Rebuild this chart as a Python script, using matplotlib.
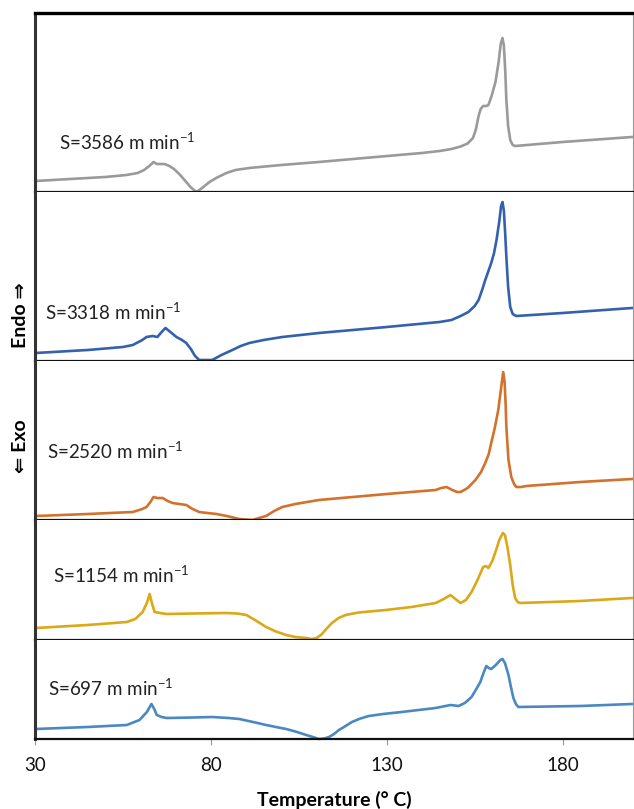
import numpy as np
import matplotlib
matplotlib.use("Agg")
import matplotlib.pyplot as plt

plt.rcParams['font.family'] = ['Lato', 'DejaVu Sans']
plt.rcParams['mathtext.fontset'] = 'custom'
plt.rcParams['mathtext.rm'] = 'Lato'

# DSC traces (temperature in °C, heat flow in arbitrary units, endo up)
t_3586 = [30.2, 40, 50, 56, 59.2, 61.0, 62.5, 63.7, 64.6, 65.6, 66.8, 68.2, 69.5, 71.0,
          72.5, 74.2, 75.9, 77.5, 79.6, 81.5, 84.4, 87, 90.9, 100, 110.7, 126.9, 140,
          145, 148.4, 151, 153, 154.5, 155.3, 156.1, 156.7, 157.4, 158.3, 158.9, 159.8,
          160.9, 161.8, 162.4, 162.9, 163.3, 163.7, 164.0, 164.5, 165.1, 165.8, 166.5,
          180, 199.7]
q_3586 = [11, 13, 15, 17, 19, 22, 26, 30, 28, 28, 28, 26, 23, 18,
          12, 5, 0, 4, 10, 14, 19, 22, 24, 27, 30, 35, 39,
          41, 43, 45.5, 48.5, 54, 62, 76, 83, 86, 86, 87, 96,
          110, 130, 148, 154, 146, 120, 92, 66, 52, 47, 46,
          50, 55]

t_3318 = [30.2, 45, 55, 57.8, 60.5, 61.7, 63.4, 64.8, 66.0, 67.1, 68.5, 70.2, 71.8, 73.0,
          74.3, 75.5, 76.7, 80.4, 83, 86.1, 88.5, 90.9, 95, 100.3, 110.7, 130, 145, 148.4,
          151, 153.2, 155, 156.1, 157.2, 158.0, 158.9, 159.7, 160.5, 161.2, 162.0, 162.5,
          162.9, 163.3, 163.7, 164.0, 164.5, 165.1, 165.8, 166.8, 180, 199.7]
q_3318 = [8, 11, 14, 16, 21, 24, 25, 24, 29, 33, 29, 24, 21, 18,
          12, 5, 1, 1, 6, 11, 15, 18, 21, 24, 28, 34, 39, 41,
          45, 49, 55, 61, 72, 81, 90, 98, 108, 121, 140, 155,
          159, 150, 125, 104, 74, 54, 47, 45, 48, 53]

t_2520 = [30.2, 45, 57.8, 60.5, 61.7, 62.8, 63.7, 64.8, 66.3, 67.7, 69.1, 71, 73.0, 74.8,
          76.7, 79, 81.6, 84.5, 88.1, 91.8, 93.7, 95.7, 98, 100.3, 104, 110.7, 130, 143.9,
          145.5, 147.0, 148.6, 150, 151.0, 153, 155.2, 156.8, 158.0, 159.0, 159.7, 160.7,
          161.7, 162.5, 163.1, 163.5, 163.8, 164.0, 164.6, 165.4, 166.2, 166.8, 168.2,
          169.7, 185, 199.7]
q_2520 = [4, 6, 8, 11, 13, 18, 23, 22, 22, 19, 17, 16, 15, 11,
          8, 7, 6, 4, 1, 0, 2, 4, 9, 13, 16, 20, 26, 30,
          32, 33, 30, 28, 28, 32, 40, 48, 57, 66, 77, 92,
          110, 132, 148, 138, 115, 93, 60, 43, 36, 33, 33,
          34, 38, 41]

t_1154 = [30.2, 45, 56.1, 58.5, 60.6, 61.8, 62.6, 63.3, 64.0, 65.5, 67.4, 75, 84.4, 87.5,
          90.1, 93, 95.7, 98.5, 101.4, 104, 107.1, 108.7, 110, 111.3, 112.8, 114.4, 116.3,
          118.3, 122, 129.7, 137, 143.9, 146.2, 148.1, 149.5, 151.0, 152.5, 154.1, 155.8,
          157.4, 158.2, 158.9, 160.0, 160.9, 162.0, 163.0, 163.6, 164.3, 165.1, 165.8,
          166.5, 167.2, 167.9, 185, 199.7]
q_1154 = [12, 15, 18, 21, 28, 37, 46, 36, 28, 27, 26, 26.5, 27, 26.5,
          25, 19, 13, 8.5, 5, 3, 2, 1, 2, 5, 11, 17, 22,
          25, 27.5, 30, 33, 37, 41, 45, 41, 37, 40, 48, 60,
          73, 74, 72, 79, 88, 100, 107, 105, 93, 75, 55,
          42, 38, 37, 39, 42]

t_697 = [30.2, 45, 56.1, 59.7, 61.8, 63.1, 63.9, 64.6, 66, 67.4, 75, 80.4, 85, 88.1,
         92, 95.7, 98.5, 101.4, 104.5, 107.1, 109, 110.7, 112.2, 113.6, 115, 116.4, 118.3,
         120.1, 122.5, 124.9, 129, 134.2, 143.9, 146, 148.1, 150.4, 152.2, 154.1, 155.3,
         156.6, 157.5, 158.3, 159.0, 159.7, 161.0, 162.3, 162.9, 163.6, 164.6, 165.3,
         166.0, 166.7, 167.4, 185, 199.7]
q_697 = [10, 12, 14, 19, 27, 35, 30, 24, 22, 21, 21.5, 22, 21, 20,
         17, 14, 12, 10, 7, 4, 2, 0, 0.5, 2, 5, 9, 13,
         17, 20.5, 23, 25, 27, 31, 32.5, 34, 33, 36, 42, 49,
         57, 66, 73, 71, 70, 74, 79, 80, 76, 64, 52,
         41, 35, 32, 33, 35]

labels = ["S=3586 m min$^{-1}$", "S=3318 m min$^{-1}$", "S=2520 m min$^{-1}$",
          "S=1154 m min$^{-1}$", "S=697 m min$^{-1}$"]
temps = [t_3586, t_3318, t_2520, t_1154, t_697]
flows = [q_3586, q_3318, q_2520, q_1154, q_697]
colors = ['#9a9a9a', '#3461ae', '#d2722c', '#dba818', '#4a88c4']

# panel heights (also the y range of each panel)
heights = [179, 169, 159, 120, 99]
label_pos = [(36.8, 0.28), (32.8, 0.29), (33.4, 0.434), (35.1, 0.54), (33.7, 0.515)]

fig = plt.figure(figsize=(6.34, 8.09), dpi=100)
gs = fig.add_gridspec(5, 1, height_ratios=heights, hspace=0,
                      left=35/634, right=633/634, top=1-13/809, bottom=1-739/809)

for i in range(5):
    ax = fig.add_subplot(gs[i])
    ax.plot(temps[i], flows[i], color=colors[i], lw=1.9, clip_on=False,
            solid_joinstyle='round')
    ax.set_xlim(30, 200)
    ax.set_ylim(0, heights[i])
    ax.set_yticks([])
    ax.text(label_pos[i][0], label_pos[i][1], labels[i], transform=ax.get_xaxis_transform(),
            fontsize=13.5, va='center', ha='left', color='#222222')

    ax.spines['left'].set_linewidth(2.2)
    ax.spines['left'].set_color('#333333')
    ax.spines['right'].set_linewidth(0.8)
    ax.spines['right'].set_color('#999999')
    ax.spines['bottom'].set_linewidth(1.6)
    ax.spines['bottom'].set_color('#111111')
    if i == 0:
        ax.spines['top'].set_linewidth(2.4)
        ax.spines['top'].set_color('#000000')
    else:
        ax.spines['top'].set_visible(False)

    if i < 4:
        ax.set_xticks([])
    else:
        ax.set_xticks([30, 80, 130, 180])
        ax.tick_params(axis='x', length=4, width=0.8, color='#999999', pad=9,
                       labelsize=13.5, labelcolor='#111111')

fig.text(334/634, 1-800/809, "Temperature (° C)", ha='center', va='center',
         fontsize=14, fontweight='bold')
fig.text(21/634, 1-446/809, "⇐ Exo", rotation=90, ha='center', va='center',
         fontsize=14, fontweight='bold')
fig.text(21/634, 1-315/809, "Endo ⇒", rotation=90, ha='center', va='center',
         fontsize=14, fontweight='bold')

fig.savefig("out.png", dpi=100)
